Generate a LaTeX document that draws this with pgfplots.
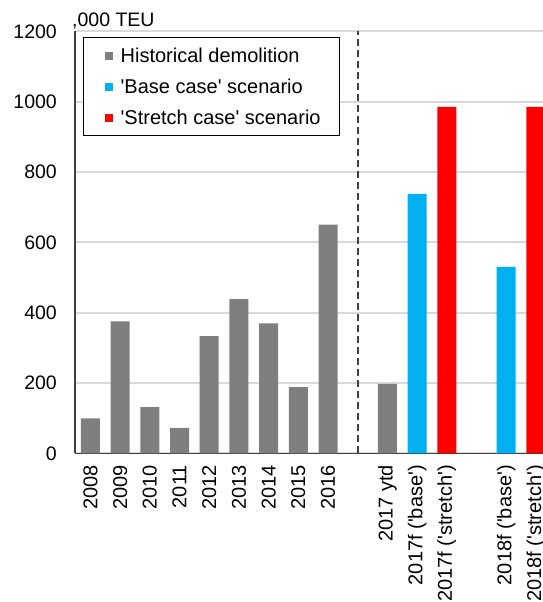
\documentclass[border=0pt]{standalone}
\usepackage{fontspec}
\newfontfamily\lsans{Liberation Sans}
\usepackage{pgfplots}
\pgfplotsset{compat=1.18}
\definecolor{histc}{HTML}{7F7F7F}
\definecolor{basec}{HTML}{00B0F0}
\definecolor{strc}{HTML}{FF0000}
\definecolor{gridc}{HTML}{D9D9D9}
\definecolor{axc}{HTML}{404040}
\begin{document}
\begin{tikzpicture}
\path[use as bounding box] (0pt,0pt) rectangle (543pt,602pt);
\clip (0pt,0pt) rectangle (543pt,602pt);
\begin{axis}[
  at={(75pt,148.5pt)}, anchor=south west,
  scale only axis, width=468pt, height=422pt,
  xmin=-0.52, xmax=15.24, ymin=0, ymax=1200,
  axis x line*=bottom, axis y line*=left,
  axis line style={axc, line width=1.5pt},
  ytick={0,200,400,600,800,1000,1200},
  ymajorgrids, grid style={gridc, line width=2pt},
  xtick={0,1,2,3,4,5,6,7,8,10,11,12,14,15},
  xticklabels={2008,2009,2010,2011,2012,2013,2014,2015,2016,2017 ytd,2017f ('base'),2017f ('stretch'),2018f ('base'),2018f ('stretch')},
  major tick length=0pt,
  tick label style={font=\lsans\fontsize{19.5}{22}\selectfont, text=black},
  x tick label style={rotate=90, anchor=east, inner sep=0pt, xshift=-11.5pt, font=\lsans\fontsize{20}{23}\selectfont},
  y tick label style={anchor=east, inner sep=0pt, xshift=-18pt},
  /pgf/number format/assume math mode=true,
  /pgf/number format/1000 sep={},
  ybar, bar width=0.64, bar shift=0pt,
  legend image code/.code={\path (0pt,0pt) (18pt,0pt); \fill[#1,draw=none] (4pt,-4pt) rectangle (12pt,4pt);},
  legend style={at={(axis description cs:0.0171,0.987)}, anchor=north west,
    draw=black, line width=1.3pt, fill=white,
    font=\lsans\fontsize{20}{23}\selectfont,
    inner xsep=17pt, inner ysep=8pt, row sep=11pt,
    nodes={inner sep=2pt}, cells={anchor=west}},
  clip mode=individual,
]
\addplot[fill=histc, draw=none] coordinates {(0,100) (1,376) (2,132) (3,73) (4,334) (5,439) (6,370) (7,189) (8,651) (10,198)};
\addlegendentry{Historical demolition}
\addplot[fill=basec, draw=none] coordinates {(11,738) (14,531)};
\addlegendentry{'Base case' scenario}
\addplot[fill=strc, draw=none] coordinates {(12,986) (15,986)};
\addlegendentry{'Stretch case' scenario}
\draw[axc, line width=1.6pt, dash pattern=on 7pt off 4pt] (axis cs:9,0) -- (axis cs:9,1200);
\node[anchor=base west, inner sep=0pt, font=\lsans\fontsize{19.5}{22}\selectfont, xshift=-3pt, yshift=5pt] at (rel axis cs:0,1) {,000 TEU};
\end{axis}
\end{tikzpicture}
\end{document}
